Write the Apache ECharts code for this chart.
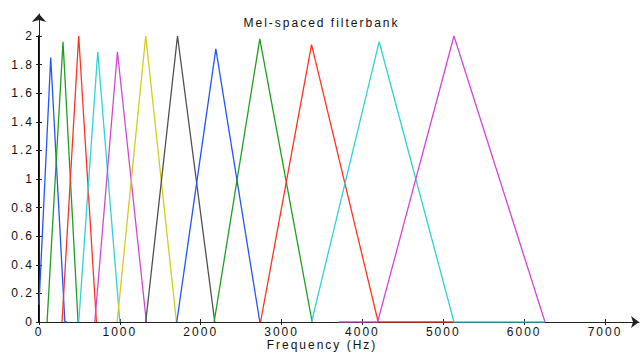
<!DOCTYPE html>
<html>
<head>
<meta charset="utf-8">
<script src="https://cdn.jsdelivr.net/npm/echarts@6/dist/echarts.min.js"></script>
<style>
  html, body { margin: 0; padding: 0; background: #fff; }
  #chart { width: 643px; height: 354px; }
  /* the original text is set wide, add tracking to the svg labels */
  #chart text { letter-spacing: 2px; }
</style>
</head>
<body>
<div id="chart"></div>
<script>
// filter outlines: [frequency Hz, gain]
const blue1 = [[0, 0.12], [145, 1.85], [320, 0], [345, 0]];
const green1 = [[100, 0], [297, 1.96], [483, 0]];
const red1 = [[285, 0], [491, 2.0], [710, 0]];
const cyan1 = [[491, 0], [727, 1.89], [1000, 0]];
const magenta1 = [[690, 0], [970, 1.89], [1328, 0]];
const yellow1 = [[966, 0], [1320, 2.0], [1700, 0]];
const gray1 = [[1320, 0], [1713, 2.0], [2174, 0]];
const blue2 = [[1704, 0], [2187, 1.91], [2731, 0]];
const green2 = [[2166, 0], [2731, 1.98], [3378, 0]];
const red2 = [[2740, 0], [3371, 1.94], [4195, 0], [5132, 0]];
const cyan2 = [[3371, 0], [4207, 1.96], [5132, 0], [6258, 0]];
const magenta2 = [[3710, 0], [4188, 0], [5132, 2.0], [6258, 0]];

const filterList = [blue1, green1, red1, cyan1, magenta1, yellow1, gray1, blue2, green2, red2, cyan2, magenta2];
const lineColors = ['#2454ff', '#1f9e1f', '#ff3322', '#2fd3d3', '#d447d4', '#d2cc1c', '#505050',
                    '#2454ff', '#1f9e1f', '#ff3322', '#2fd3d3', '#d447d4'];

const freqMin = 0, freqMax = 7000, freqStep = 1000;
const gainMin = 0, gainMax = 2, gainStep = 0.2;

const font = 'Liberation Sans';
const chart = echarts.init(document.getElementById('chart'), null, { renderer: 'svg' });

chart.setOption({
  animation: false,
  backgroundColor: '#fff',
  title: {
    text: 'Mel-spaced filterbank',
    left: 'center',
    top: 12,
    textStyle: { fontFamily: font, fontSize: 12, fontWeight: 'normal', color: '#111' }
  },
  grid: [
    { left: 39, top: 36, width: 566, height: 286, outerBoundsMode: 'none' },
    { left: 39, top: 14, right: 4, bottom: 32, outerBoundsMode: 'none' }
  ],
  xAxis: [
    {
      gridIndex: 0, type: 'value', position: 'bottom',
      min: freqMin, max: freqMax, interval: freqStep,
      name: 'Frequency (Hz)', nameLocation: 'middle', nameGap: 17, nameMoveOverlap: false,
      nameTextStyle: { fontFamily: font, fontSize: 12, color: '#111', verticalAlign: 'top' },
      axisLine: { show: false },
      axisTick: { show: true, inside: true, length: 3, lineStyle: { color: '#222' } },
      axisLabel: { fontFamily: font, fontSize: 12, color: '#111', margin: 4, formatter: v => String(v) },
      splitLine: { show: false }
    },
    {
      gridIndex: 0, type: 'value', position: 'top',
      min: freqMin, max: freqMax, interval: freqStep,
      axisLine: { show: true, lineStyle: { color: '#222', width: 1 } },
      axisTick: { show: true, inside: true, length: 3, lineStyle: { color: '#222' } },
      axisLabel: { show: false },
      splitLine: { show: false }
    },
    {
      gridIndex: 1, type: 'value', min: 0, max: 1,
      axisLine: { show: true, symbol: ['none', 'arrow'], symbolSize: [9, 8], lineStyle: { color: '#222', width: 1 } },
      axisTick: { show: false }, axisLabel: { show: false }, splitLine: { show: false }
    }
  ],
  yAxis: [
    {
      gridIndex: 0, type: 'value', position: 'left',
      min: gainMin, max: gainMax, interval: gainStep,
      axisLine: { show: true, lineStyle: { color: '#000', width: 2 } },
      axisTick: { show: true, inside: true, length: 3, lineStyle: { color: '#222' } },
      axisLabel: { fontFamily: font, fontSize: 12, color: '#111', margin: 5 },
      splitLine: { show: false }
    },
    {
      gridIndex: 0, type: 'value', position: 'right',
      min: gainMin, max: gainMax, interval: gainStep,
      axisLine: { show: true, lineStyle: { color: '#222', width: 1 } },
      axisTick: { show: true, inside: true, length: 3, lineStyle: { color: '#222' } },
      axisLabel: { show: false },
      splitLine: { show: false }
    },
    {
      gridIndex: 1, type: 'value', min: 0, max: 1,
      axisLine: { show: true, symbol: ['none', 'arrow'], symbolSize: [11, 8], lineStyle: { color: '#222', width: 1 } },
      axisTick: { show: false }, axisLabel: { show: false }, splitLine: { show: false }
    }
  ],
  series: filterList.map((pts, i) => ({
    type: 'line',
    xAxisIndex: 0,
    yAxisIndex: 0,
    data: pts,
    showSymbol: false,
    silent: true,
    lineStyle: { color: lineColors[i], width: 1.3 }
  }))
});
</script>
</body>
</html>
